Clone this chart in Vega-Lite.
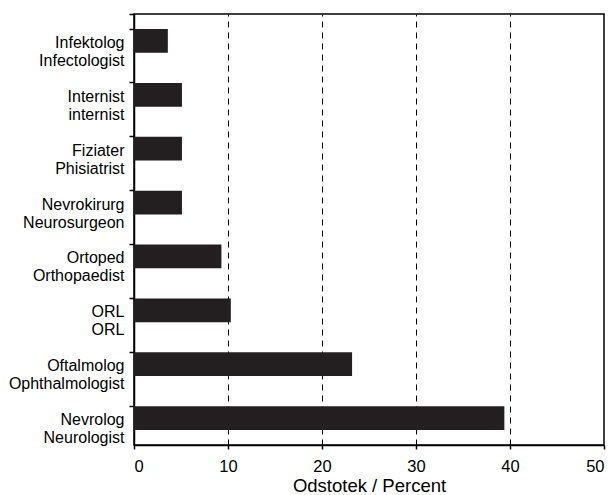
{
  "$schema": "https://vega.github.io/schema/vega-lite/v6.json",
  "autosize": {"type": "none"},
  "padding": {"left": 134, "top": 14, "right": 11, "bottom": 50},
  "width": 470,
  "height": 431,
  "background": "white",
  "data": {
    "values": [
      {"label": "Infektolog|Infectologist", "percent": 3.6},
      {"label": "Internist|internist", "percent": 5.1},
      {"label": "Fiziater|Phisiatrist", "percent": 5.1},
      {"label": "Nevrokirurg|Neurosurgeon", "percent": 5.1},
      {"label": "Ortoped|Orthopaedist", "percent": 9.3},
      {"label": "ORL|ORL", "percent": 10.3},
      {"label": "Oftalmolog|Ophthalmologist", "percent": 23.2},
      {"label": "Nevrolog|Neurologist", "percent": 39.4}
    ]
  },
  "config": {
    "font": "Liberation Sans",
    "view": {"stroke": "black", "strokeWidth": 1.5},
    "axis": {"domainColor": "black", "tickColor": "black", "labelColor": "black", "titleColor": "black", "labelFont": "Liberation Sans", "titleFont": "Liberation Sans"}
  },
  "mark": {"type": "bar", "color": "#231f20"},
  "encoding": {
    "y": {
      "field": "label",
      "type": "nominal",
      "sort": null,
      "scale": {"paddingInner": 0.56, "paddingOuter": 0.28},
      "axis": {
        "title": null,
        "labelExpr": "split(datum.label, '|')",
        "labelAlign": "right",
        "labelFontSize": 16,
        "labelLineHeight": 18,
        "labelPadding": 5,
        "labelOffset": 2,
        "tickSize": 5,
        "bandPosition": 0,
        "tickExtra": true,
        "domainWidth": 1.5,
        "tickWidth": 1.5
      }
    },
    "x": {
      "field": "percent",
      "type": "quantitative",
      "scale": {"domain": [0, 50], "nice": false},
      "axis": {
        "title": "Odstotek / Percent",
        "titleFontSize": 18.5,
        "titleFontWeight": "normal",
        "titlePadding": 2,
        "values": [0, 10, 20, 30, 40, 50],
        "labelFontSize": 16.5,
        "labelPadding": 9,
        "tickSize": 4,
        "domainWidth": 1.5,
        "tickWidth": 1.5,
        "grid": true,
        "gridColor": "black",
        "gridDash": [6, 5],
        "gridWidth": 1,
        "gridOpacity": {"condition": {"test": "datum.value == 0 || datum.value == 50", "value": 0}, "value": 1}
      }
    }
  }
}
